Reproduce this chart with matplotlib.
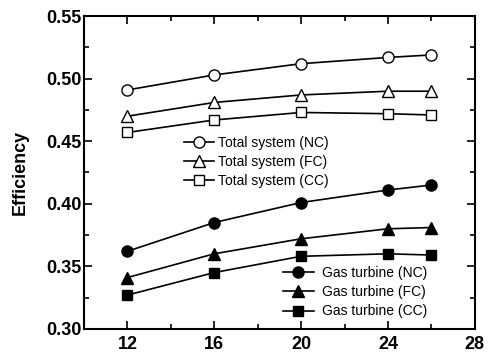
import matplotlib.pyplot as plt
import numpy as np

plt.rcParams['font.family'] = ['Liberation Sans', 'DejaVu Sans']

pressure = [12, 16, 20, 24, 26]

total_nc = [0.491, 0.503, 0.512, 0.517, 0.519]
total_fc = [0.470, 0.481, 0.487, 0.490, 0.490]
total_cc = [0.457, 0.467, 0.473, 0.472, 0.471]
gt_nc = [0.362, 0.385, 0.401, 0.411, 0.415]
gt_fc = [0.341, 0.360, 0.372, 0.380, 0.381]
gt_cc = [0.327, 0.345, 0.358, 0.360, 0.359]

fig = plt.figure(figsize=(4.91, 3.59), dpi=100)
ax = fig.add_axes([0.171, 0.084, 0.796, 0.871])

kw = dict(color='black', lw=1.2, mec='black', mew=1.0)
h1, = ax.plot(pressure, total_nc, marker='o', ms=8, mfc='white', label='Total system (NC)', **kw)
h2, = ax.plot(pressure, total_fc, marker='^', ms=8, mfc='white', label='Total system (FC)', **kw)
h3, = ax.plot(pressure, total_cc, marker='s', ms=7, mfc='white', label='Total system (CC)', **kw)
h4, = ax.plot(pressure, gt_nc, marker='o', ms=8, mfc='black', label='Gas turbine (NC)', **kw)
h5, = ax.plot(pressure, gt_fc, marker='^', ms=8, mfc='black', label='Gas turbine (FC)', **kw)
h6, = ax.plot(pressure, gt_cc, marker='s', ms=7, mfc='black', label='Gas turbine (CC)', **kw)

ax.set_xlim(10, 28)
ax.set_ylim(0.30, 0.55)
ax.set_xticks([12, 16, 20, 24, 28])
ax.set_xticks([14, 18, 22, 26], minor=True)
ax.set_yticks(np.arange(0.30, 0.551, 0.05))
ax.set_yticks(np.arange(0.325, 0.55, 0.05), minor=True)
ax.yaxis.set_major_formatter(plt.FormatStrFormatter('%.2f'))
ax.tick_params(which='both', direction='in', top=True, right=True, width=1.2)
ax.tick_params(which='major', length=6, labelsize=13)
ax.tick_params(axis='y', which='major', pad=2)
ax.tick_params(axis='x', which='major', pad=5)
ax.tick_params(which='minor', length=3.5)
for lab in ax.get_xticklabels() + ax.get_yticklabels():
    lab.set_fontweight('bold')
for sp in ax.spines.values():
    sp.set_linewidth(1.5)

ax.set_ylabel('Efficiency', fontsize=13, fontweight='bold', labelpad=12)

leg1 = ax.legend(handles=[h1, h2, h3], loc='upper left', bbox_to_anchor=(0.237, 0.64),
                 frameon=False, fontsize=10, handlelength=2.2, handletextpad=0.3,
                 labelspacing=0.38, borderpad=0)
ax.add_artist(leg1)
ax.legend(handles=[h4, h5, h6], loc='lower right', bbox_to_anchor=(0.896, 0.011),
          frameon=False, fontsize=10, handlelength=2.2, handletextpad=0.6,
          labelspacing=0.38, borderpad=0)

fig.savefig('out.png', dpi=100)
